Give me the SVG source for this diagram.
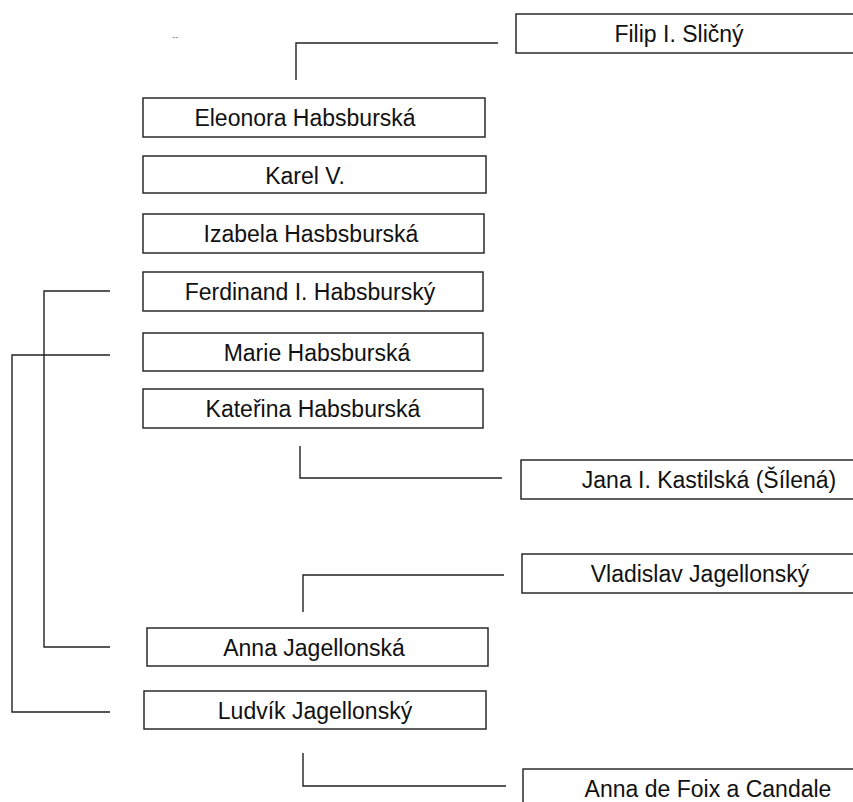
<svg xmlns="http://www.w3.org/2000/svg" width="853" height="802" viewBox="0 0 853 802">
<style>
.box{fill:#fff;stroke:#2b2b2b;stroke-width:1.5}
.lbl{font-family:"Liberation Sans",Arial,sans-serif;font-size:23px;fill:#111;text-anchor:middle}
.con{fill:none;stroke:#222;stroke-width:1.4}
.dot{font-family:"Liberation Sans",Arial,sans-serif;font-size:10px;fill:#999}
</style>
<rect width="853" height="802" fill="#fff"/>
<text class="dot" x="172" y="40">--</text>
<g id="connectors">
<path class="con" d="M498,43 H296 V80"/>
<path class="con" d="M300,446 V478 H502"/>
<path class="con" d="M504,575 H303 V612"/>
<path class="con" d="M110,291 H44 V647 H110"/>
<path class="con" d="M110,355 H12 V712 H110"/>
<path class="con" d="M303,753 V786 H506"/>
</g>
<g id="filip"><rect class="box" x="516" y="14" width="340" height="39"/><text class="lbl" x="679" y="42">Filip I. Sličný</text></g>
<g id="eleonora"><rect class="box" x="143" y="98" width="342" height="39"/><text class="lbl" x="305" y="126">Eleonora Habsburská</text></g>
<g id="karel"><rect class="box" x="143" y="156" width="343" height="37"/><text class="lbl" x="305" y="184">Karel V.</text></g>
<g id="izabela"><rect class="box" x="143" y="214" width="341" height="39"/><text class="lbl" x="311" y="242">Izabela Hasbsburská</text></g>
<g id="ferdinand"><rect class="box" x="143" y="272" width="340" height="39"/><text class="lbl" x="310" y="300">Ferdinand I. Habsburský</text></g>
<g id="marie"><rect class="box" x="143" y="333" width="340" height="38"/><text class="lbl" x="317" y="361">Marie Habsburská</text></g>
<g id="katerina"><rect class="box" x="143" y="389" width="340" height="39"/><text class="lbl" x="313" y="417">Kateřina Habsburská</text></g>
<g id="jana"><rect class="box" x="521" y="460" width="335" height="39"/><text class="lbl" x="709" y="488">Jana I. Kastilská (Šílená)</text></g>
<g id="vladislav"><rect class="box" x="522" y="554" width="334" height="39"/><text class="lbl" x="700" y="582">Vladislav Jagellonský</text></g>
<g id="anna-jag"><rect class="box" x="147" y="628" width="341" height="38"/><text class="lbl" x="314" y="656">Anna Jagellonská</text></g>
<g id="ludvik"><rect class="box" x="144" y="691" width="342" height="38"/><text class="lbl" x="315" y="719">Ludvík Jagellonský</text></g>
<g id="anna-foix"><rect class="box" x="523" y="769" width="333" height="40"/><text class="lbl" x="708" y="797">Anna de Foix a Candale</text></g>
</svg>
